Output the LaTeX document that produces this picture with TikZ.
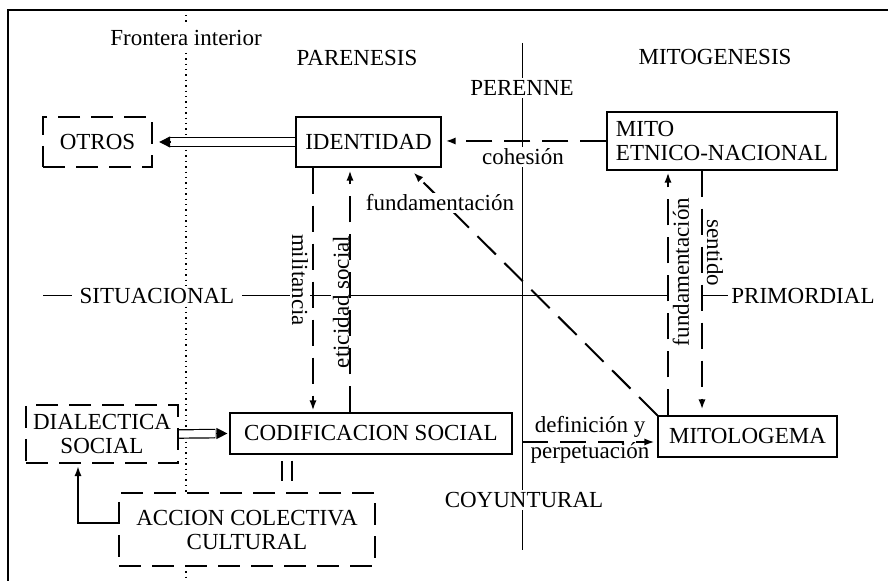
\documentclass[tikz,border=0pt]{standalone}
\usepackage{fontspec}
\setmainfont{Liberation Serif}
\usetikzlibrary{arrows.meta,calc}

\begin{document}
\begin{tikzpicture}[x=0.5pt,y=-0.5pt,
  every node/.style={font=\fontsize{11.5}{12}\selectfont},
  box/.style={draw,line width=0.6pt,inner sep=0pt,fill=white},
  dbox/.style={box,line width=1.2pt,dash pattern=on 11pt off 5.5pt},
  lbl/.style={fill=white,inner sep=1pt},
  link/.style={line width=1pt,dash pattern=on 13pt off 6pt},
  tip/.style={-{Latex[length=5pt,width=3.6pt]}},
  head/.style={line width=0.6pt,-{Triangle[length=5.5pt,width=5.5pt]}},
  hollow/.style={line width=0.6pt,double,double distance=3.6pt},
  axis/.style={line width=0.5pt}]
\useasboundingbox (0,0) rectangle (888,581);

\draw[line width=0.8pt] (8,581) -- (8,10) -- (888,10);
\draw[dotted,line width=0.7pt] (186,15) -- (186,581);
\draw[axis] (522,43) -- (522,550);
\draw[axis] (43,296) -- (668,296) (702,296) -- (728,296);

\coordinate (milx) at (313,0);
\coordinate (etix) at (350,0);
\coordinate (funx) at (668,0);
\coordinate (senx) at (702,0);
\coordinate (eqx) at (287,0);
\coordinate (retx) at (78,0);
\coordinate (defy) at (522,442);

\node[lbl,inner sep=2pt] (frontera) at (186,38) {Frontera interior};
\node (parenesis) at (357,58) {PARENESIS};
\node[lbl] (perenne) at (522,88) {PERENNE};
\node (mitogenesis) at (715,57) {MITOGENESIS};
\node[lbl,inner xsep=4pt] (situacional) at (157,296) {SITUACIONAL};
\node (primordial) at (803,296) {PRIMORDIAL};
\node[lbl] (coyuntural) at (524,500) {COYUNTURAL};

\node[dbox,minimum width=54.5pt,minimum height=25pt] (otros) at (97.5,142) {OTROS};
\node[box,minimum width=72.5pt,minimum height=25pt] (identidad) at (368.5,142) {IDENTIDAD};
\node[box,minimum width=115pt,minimum height=29pt,align=left] (mito) at (722,141) {MITO\\ETNICO-NACIONAL};
\node[box,minimum width=141pt,minimum height=20.5pt] (codif) at (371,433.5) {CODIFICACION SOCIAL};
\node[box,minimum width=89.5pt,minimum height=20.5pt] (mitologema) at (747.5,436.5) {MITOLOGEMA};
\node[dbox,minimum width=76pt,minimum height=29pt,align=center] (dialectica) at (102,434) {DIALECTICA\\SOCIAL};
\node[dbox,minimum width=128pt,minimum height=36.5pt,align=center] (accion) at (247,529.5) {ACCION COLECTIVA\\CULTURAL};

\node[lbl] (cohesion) at (523,157) {cohesión};
\node[lbl,rotate=-90] (militancia) at (300,280) {militancia};
\node[lbl,rotate=90] (eticidad) at (341,302) {eticidad social};
\node[lbl,rotate=90] (fundvert) at (681,272) {fundamentación};
\node[lbl,rotate=-90] (sentido) at (715,253) {sentido};
\node (definicion) at (590,427) {definición y};
\node (perpetuacion) at (590,453) {perpetuación};

\draw[hollow,shorten >=8pt] (identidad.west) -- (otros.east);
\draw[head] ([xshift=8.5pt]otros.east) -- ([xshift=3pt]otros.east);
\draw[hollow,shorten >=7pt] (dialectica.east) -- (codif.west);
\draw[head] ([xshift=-6.5pt]codif.west) -- ([xshift=-1pt]codif.west);
\draw[line width=0.6pt,double,double distance=4.4pt,shorten <=3pt,shorten >=5.5pt] (codif.south -| eqx) -- (accion.north -| eqx);
\draw[line width=0.8pt,tip,shorten >=1pt] ([yshift=3.25pt]accion.west) -| (dialectica.south -| retx);

\draw[link,tip,shorten >=2pt] (mito.west) -- (mito.west -| identidad.east);
\draw[link,tip,shorten >=1pt] (identidad.south -| milx) -- (codif.north -| milx);
\draw[link,tip,shorten >=1.5pt] (codif.north -| etix) -- (identidad.south -| etix);
\draw[link,tip,shorten >=1pt] (mitologema.north -| funx) -- (mito.south -| funx);
\draw[link,tip,shorten >=3pt] (mito.south -| senx) -- (mitologema.north -| senx);
\draw[link,tip,shorten >=1.5pt] (defy) -- (defy -| mitologema.west);
\draw[link,tip,shorten >=3.5pt] (mitologema.north west) -- ($(identidad.south east)+(-33,0)$);
\node[lbl] (fundamentacion) at (440,203) {fundamentación};

\end{tikzpicture}
\end{document}
